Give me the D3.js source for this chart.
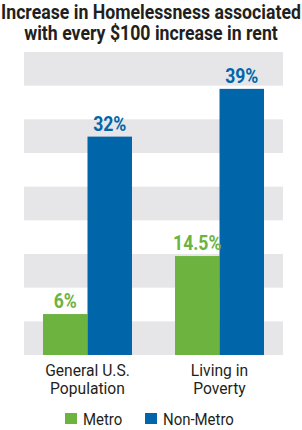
<!DOCTYPE html>
<html>
<head>
<meta charset="utf-8">
<script src="https://cdn.jsdelivr.net/npm/d3@7"></script>
<style>
  body { margin: 0; background: #fff; }
  svg text { font-family: Roboto, "Liberation Sans", sans-serif; }
</style>
</head>
<body>
<svg id="chart"></svg>
<script>
// data
const groups = ['General U.S.|Population', 'Living in|Poverty'];
const seriesNames = ['Metro', 'Non-Metro'];
const metro = [6, 14.5];
const nonMetro = [32, 39];
const valueLabels = [['6%', '32%'], ['14.5%', '39%']];
const titleLines = ['Increase in Homelessness associated', 'with every $100 increase in rent'];
const colors = ['#6cb33f', '#0065a9'];
const stripeCount = 9;

const w = 302, h = 430;
const svg = d3.select('#chart').attr('width', w).attr('height', h);

// squeeze text sideways around its anchor x, the source font is a condensed one
function condense(sel, x, sx) {
  sel.attr('transform', `translate(${x},0) scale(${sx},1) translate(${-x},0)`);
}

// title, two lines
let titleText = svg.selectAll('text.title')
  .data(titleLines)
  .join('text')
  .attr('class', 'title')
  .attr('x', w / 2)
  .attr('y', (d, i) => 19 + i * 21)
  .attr('text-anchor', 'middle')
  .attr('font-size', 21).attr('font-weight', 'bold').attr('fill', '#231f20')
  .text(d => d);
// fit the first line to the page width, same squeeze for both
let firstLen = titleText.node().getComputedTextLength();
condense(titleText, w / 2, 300 / firstLen);

// plot area edges
const plotLeft = 24, plotRight = 283, plotBottom = 355, plotTop = 52;

// background stripes
let stripeScale = d3.scaleLinear().domain([0, stripeCount]).range([plotBottom, plotTop]);
svg.selectAll('rect.stripe')
  .data(d3.range(stripeCount).filter(i => i % 2 === 0))
  .join('rect')
  .attr('class', 'stripe')
  .attr('x', plotLeft)
  .attr('width', plotRight - plotLeft)
  .attr('y', d => stripeScale(d + 1))
  .attr('height', d => stripeScale(d) - stripeScale(d + 1))
  .attr('fill', '#e6e6e8');

let xScale = d3.scaleBand()
  .domain(groups)
  .range([plotLeft, plotRight])
  .paddingInner(0.326)
  .paddingOuter(0.144);

let xSub = d3.scaleBand()
  .domain(seriesNames)
  .range([0, xScale.bandwidth()]);

let yScale = d3.scaleLinear()
  .domain([0, 44.4])
  .range([plotBottom, plotTop]);

const rows = groups.map((g, i) => ({
  group: g,
  values: [metro[i], nonMetro[i]],
  labels: valueLabels[i]
}));

let gGroup = svg.selectAll('g.group')
  .data(rows)
  .join('g')
  .attr('class', 'group')
  .attr('transform', d => `translate(${xScale(d.group)},0)`);

gGroup.selectAll('rect')
  .data(d => d.values.map((v, j) => ({ v, s: seriesNames[j], j })))
  .join('rect')
  .attr('x', d => xSub(d.s))
  .attr('width', xSub.bandwidth())
  .attr('y', d => yScale(d.v))
  .attr('height', d => yScale(0) - yScale(d.v))
  .attr('fill', d => colors[d.j]);

gGroup.selectAll('text.val')
  .data(d => d.values.map((v, j) => ({ v, s: seriesNames[j], j, label: d.labels[j] })))
  .join('text')
  .attr('class', 'val')
  .attr('x', d => xSub(d.s) + xSub.bandwidth() / 2)
  .attr('y', d => yScale(d.v) - 6)
  .attr('text-anchor', 'middle')
  .attr('font-size', 20).attr('font-weight', 'bold')
  .attr('fill', d => colors[d.j])
  .text(d => d.label)
  .each(function (d) {
    condense(d3.select(this), xSub(d.s) + xSub.bandwidth() / 2, 0.88);
  });

// category labels
svg.selectAll('text.cat')
  .data(groups)
  .join('text')
  .attr('class', 'cat')
  .attr('text-anchor', 'middle')
  .attr('y', 376)
  .attr('font-size', 17).attr('fill', '#231f20')
  .each(function (d) {
    condense(d3.select(this), xScale(d) + xScale.bandwidth() / 2, 0.92);
  })
  .selectAll('tspan')
  .data(d => d.split('|').map(t => ({ t, g: d })))
  .join('tspan')
  .attr('x', d => xScale(d.g) + xScale.bandwidth() / 2)
  .attr('dy', (d, i) => i ? 18 : 0)
  .text(d => d.t);

// legend
const legendX = [65, 145];
let leg = svg.selectAll('g.legend')
  .data(seriesNames)
  .join('g')
  .attr('class', 'legend')
  .attr('transform', (d, i) => `translate(${legendX[i]},413)`);

leg.append('rect')
  .attr('width', 12).attr('height', 11)
  .attr('fill', (d, i) => colors[i]);

leg.append('text')
  .attr('x', 18).attr('y', 11.5)
  .attr('font-size', 17).attr('fill', '#231f20')
  .text(d => d)
  .each(function () { condense(d3.select(this), 18, 0.88); });
</script>
</body>
</html>
